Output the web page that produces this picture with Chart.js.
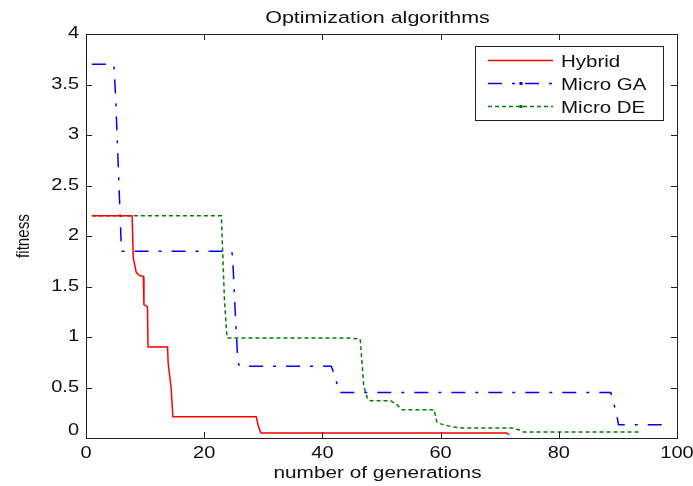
<!DOCTYPE html>
<html>
<head>
<meta charset="utf-8">
<script src="https://cdn.jsdelivr.net/npm/chart.js@4.4.1/dist/chart.umd.min.js"></script>
<style>
  html, body { margin: 0; padding: 0; background: #fff; }
  canvas { display: block; }
</style>
</head>
<body>
<canvas id="fitChart" width="693" height="486"></canvas>
<script>
// values
const hybridX = [1, 7.8, 8.0, 8.5, 9.0, 9.7, 9.8, 10.4, 10.5, 13.8, 13.9, 14.4, 14.7, 28.8, 29.2, 29.6, 71.2, 71.6];
const hybridY = [2.2, 2.2, 1.78, 1.64, 1.61, 1.6, 1.32, 1.3, 0.9, 0.9, 0.74, 0.5, 0.21, 0.21, 0.11, 0.05, 0.05, 0.03];

const gaX = [1, 4.7, 5.0, 6.0, 24.6, 24.8, 25.2, 25.7, 26.0, 41.5, 42.2, 42.8, 88.8, 89.1, 89.7, 90.1, 98.5];
const gaY = [3.7, 3.7, 3.4, 1.85, 1.85, 1.81, 1.3, 0.75, 0.71, 0.71, 0.6, 0.45, 0.45, 0.38, 0.26, 0.13, 0.13];

const deX = [1, 22.9, 23.4, 23.8, 23.9, 43.9, 46.4, 47.0, 47.7, 48.2, 51.5, 52.6, 53.5, 58.9, 59.4, 60.0, 62.0, 63.4, 72.1, 73.3, 74.0, 94];
const deY = [2.2, 2.2, 1.4, 1.04, 0.99, 0.99, 0.98, 0.51, 0.38, 0.37, 0.37, 0.33, 0.28, 0.28, 0.15, 0.14, 0.11, 0.1, 0.1, 0.08, 0.06, 0.06];

const seriesNames = ['Hybrid', 'Micro GA', 'Micro DE'];
const xTicks = [0, 20, 40, 60, 80, 100];
const yTicks = [0, 0.5, 1, 1.5, 2, 2.5, 3, 3.5, 4];
const titleText = 'Optimization algorithms';
const xLabel = 'number of generations';
const yLabel = 'fitness';

const colors = { hybrid: '#ff0000', ga: '#0000ff', de: '#008000', axis: '#222222', text: '#111111' };
const dashes = { hybrid: [], ga: [14, 10, 3, 10], de: [4, 3] };
const FONT = '"Liberation Sans", Arial, sans-serif';
const SQUASH = 0.8; // the figure's text looks vertically squashed

function toPoints(xs, ys) {
    return xs.map((x, i) => ({ x: x, y: ys[i] }));
}

// draw text, squashed along the screen's vertical axis
function drawText(ctx, s, x, y, size, align, baseline, rotate) {
    ctx.save();
    ctx.translate(x, y);
    if (rotate) {
        ctx.rotate(-Math.PI / 2);
        ctx.scale(SQUASH, 1);
    } else {
        ctx.scale(1, SQUASH);
    }
    ctx.font = size + 'px ' + FONT;
    ctx.fillStyle = colors.text;
    ctx.textAlign = align;
    ctx.textBaseline = baseline;
    ctx.fillText(s, 0, 0);
    ctx.restore();
}

const matlabAxes = {
    id: 'matlabAxes',
    beforeDraw(chart) {
        const ctx = chart.ctx;
        ctx.save();
        ctx.fillStyle = '#fff';
        ctx.fillRect(0, 0, chart.width, chart.height);
        ctx.restore();
    },
    afterDraw(chart) {
        const ctx = chart.ctx;
        const a = chart.chartArea;
        const xs = chart.scales.x, ys = chart.scales.y;
        const tickLen = 6;

        ctx.save();
        ctx.strokeStyle = colors.axis;
        ctx.lineWidth = 1;
        ctx.strokeRect(a.left + 0.5, a.top + 0.5, a.right - a.left, a.bottom - a.top);

        // inward ticks on all four sides
        ctx.beginPath();
        xTicks.forEach(v => {
            const px = Math.round(xs.getPixelForValue(v)) + 0.5;
            ctx.moveTo(px, a.bottom); ctx.lineTo(px, a.bottom - tickLen);
            ctx.moveTo(px, a.top); ctx.lineTo(px, a.top + tickLen);
        });
        yTicks.forEach(v => {
            const py = Math.round(ys.getPixelForValue(v)) + 0.5;
            ctx.moveTo(a.left, py); ctx.lineTo(a.left + tickLen, py);
            ctx.moveTo(a.right, py); ctx.lineTo(a.right - tickLen, py);
        });
        ctx.stroke();
        ctx.restore();

        // tick labels
        xTicks.forEach(v => {
            drawText(ctx, String(v), xs.getPixelForValue(v), a.bottom + 20, 20, 'center', 'alphabetic');
        });
        yTicks.forEach(v => {
            let py = ys.getPixelForValue(v);
            if (v === 0) py -= 7;
            drawText(ctx, String(v), a.left - 7, py, 20, 'right', 'middle');
        });

        const cx = (a.left + a.right) / 2;
        drawText(ctx, titleText, cx - 4, 22.5, 21.5, 'center', 'alphabetic');
        drawText(ctx, xLabel, cx - 4, 478, 20.8, 'center', 'alphabetic');
        drawText(ctx, yLabel, 29, (a.top + a.bottom) / 2, 19, 'center', 'alphabetic', true);

        // legend box
        const lg = { left: 475, top: 46, right: 663, bottom: 120 };
        ctx.save();
        ctx.fillStyle = '#fff';
        ctx.fillRect(lg.left, lg.top, lg.right - lg.left, lg.bottom - lg.top);
        ctx.strokeStyle = colors.axis;
        ctx.lineWidth = 1;
        ctx.strokeRect(lg.left + 0.5, lg.top + 0.5, lg.right - lg.left, lg.bottom - lg.top);
        ctx.restore();

        const keys = ['hybrid', 'ga', 'de'];
        keys.forEach((k, i) => {
            const ly = 60.5 + i * 23;
            ctx.save();
            ctx.strokeStyle = colors[k];
            ctx.lineWidth = 1.5;
            ctx.setLineDash(dashes[k]);
            ctx.beginPath();
            ctx.moveTo(488, ly);
            ctx.lineTo(553, ly);
            ctx.stroke();
            if (k !== 'hybrid') {
                ctx.fillStyle = colors[k];
                ctx.beginPath();
                ctx.arc(521, ly, 1.8, 0, Math.PI * 2);
                ctx.fill();
            }
            ctx.restore();
            drawText(ctx, seriesNames[i], 561, ly + 6, 20.5, 'left', 'alphabetic');
        });
    }
};

const ctx = document.getElementById('fitChart').getContext('2d');
const fitChart = new Chart(ctx, {
    type: 'line',
    data: {
        datasets: [
            {
                label: seriesNames[0],
                data: toPoints(hybridX, hybridY),
                borderColor: colors.hybrid,
                borderWidth: 1.5,
                borderDash: dashes.hybrid,
                pointRadius: 0,
                fill: false,
                tension: 0
            },
            {
                label: seriesNames[1],
                data: toPoints(gaX, gaY),
                borderColor: colors.ga,
                borderWidth: 1.5,
                borderDash: dashes.ga,
                pointRadius: 0,
                fill: false,
                tension: 0
            },
            {
                label: seriesNames[2],
                data: toPoints(deX, deY),
                borderColor: colors.de,
                borderWidth: 1.5,
                borderDash: dashes.de,
                pointRadius: 0,
                fill: false,
                tension: 0
            }
        ]
    },
    options: {
        responsive: false,
        animation: false,
        layout: { padding: { left: 86, right: 16, top: 34, bottom: 48 } },
        scales: {
            x: { type: 'linear', min: 0, max: 100, display: false },
            y: { type: 'linear', min: 0, max: 4, display: false }
        },
        plugins: {
            legend: { display: false },
            title: { display: false },
            tooltip: { enabled: false }
        }
    },
    plugins: [matlabAxes]
});
</script>
</body>
</html>
